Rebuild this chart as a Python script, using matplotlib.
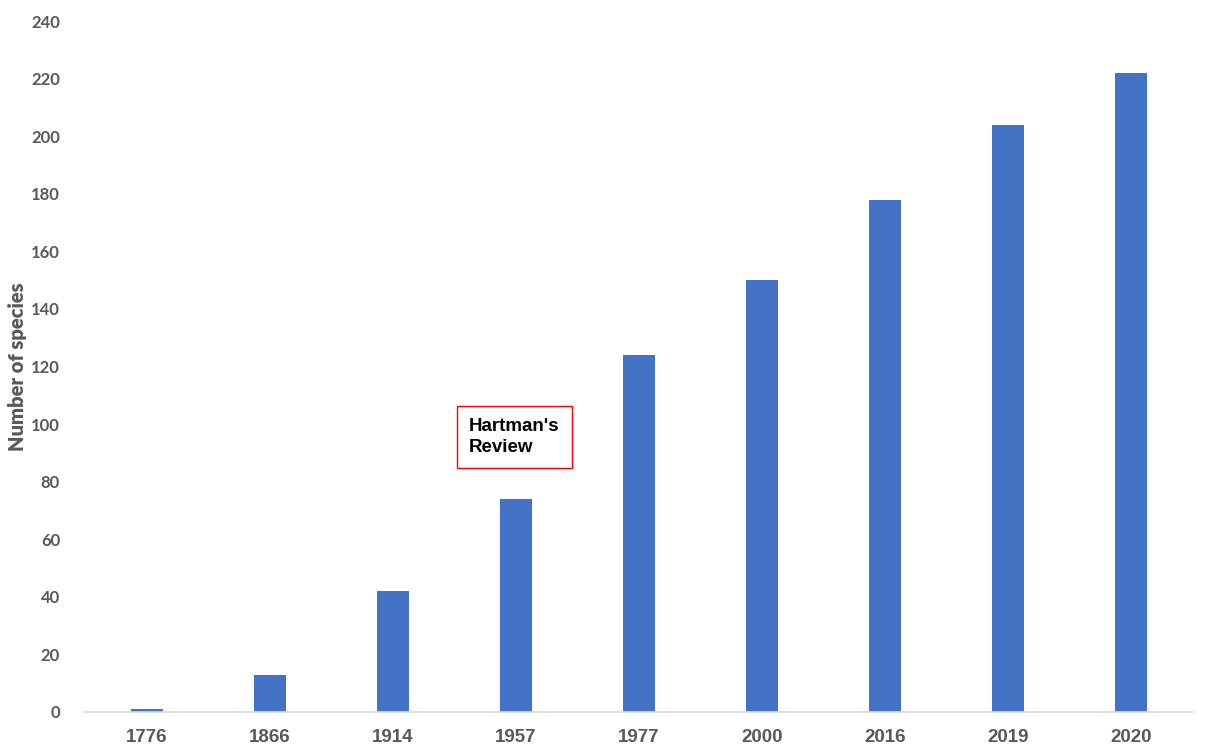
import matplotlib.pyplot as plt

# Data
years = ['1776', '1866', '1914', '1957', '1977', '2000', '2016', '2019', '2020']
species = [1, 13, 42, 74, 124, 150, 178, 204, 222]
y_ticks = list(range(0, 241, 20))

bar_color = '#4472C4'
text_gray = '#595959'

fig = plt.figure(figsize=(12.08, 7.52), dpi=100)
ax = fig.add_axes([0.0704, 0.0532, 0.9172, 0.9188])

x = range(len(years))
ax.bar(x, species, width=0.26, color=bar_color, zorder=2)

ax.set_xlim(-0.5, len(years) - 0.5)
ax.set_ylim(0, 240)
ax.set_xticks(list(x))
ax.set_xticklabels(years, fontfamily='Liberation Sans', fontweight='bold',
                   fontsize=13.5, color=text_gray)
ax.set_yticks(y_ticks)
ax.set_yticklabels([str(v) for v in y_ticks], fontfamily='Lato', fontweight='bold',
                   fontsize=12, color=text_gray)
ax.tick_params(axis='x', length=0, pad=12)
ax.tick_params(axis='y', length=0, pad=18)

for side in ['top', 'right', 'left']:
    ax.spines[side].set_visible(False)
ax.spines['bottom'].set_color('#D9D9D9')
ax.spines['bottom'].set_linewidth(1.2)

ax.set_ylabel('Number of species', fontfamily='Lato', fontweight='heavy',
              fontsize=14.5, color=text_gray)
ax.yaxis.set_label_coords(-0.052, 0.5)

# annotation box
ax.text(2.62, 95.5, "Hartman's\nReview", fontfamily='Liberation Sans',
        fontweight='bold', fontsize=13.5, color='black', va='center', ha='left',
        linespacing=1.3,
        bbox=dict(boxstyle='square,pad=0.65', facecolor='white', edgecolor='red',
                  linewidth=1))

fig.savefig('out.png', dpi=100)
